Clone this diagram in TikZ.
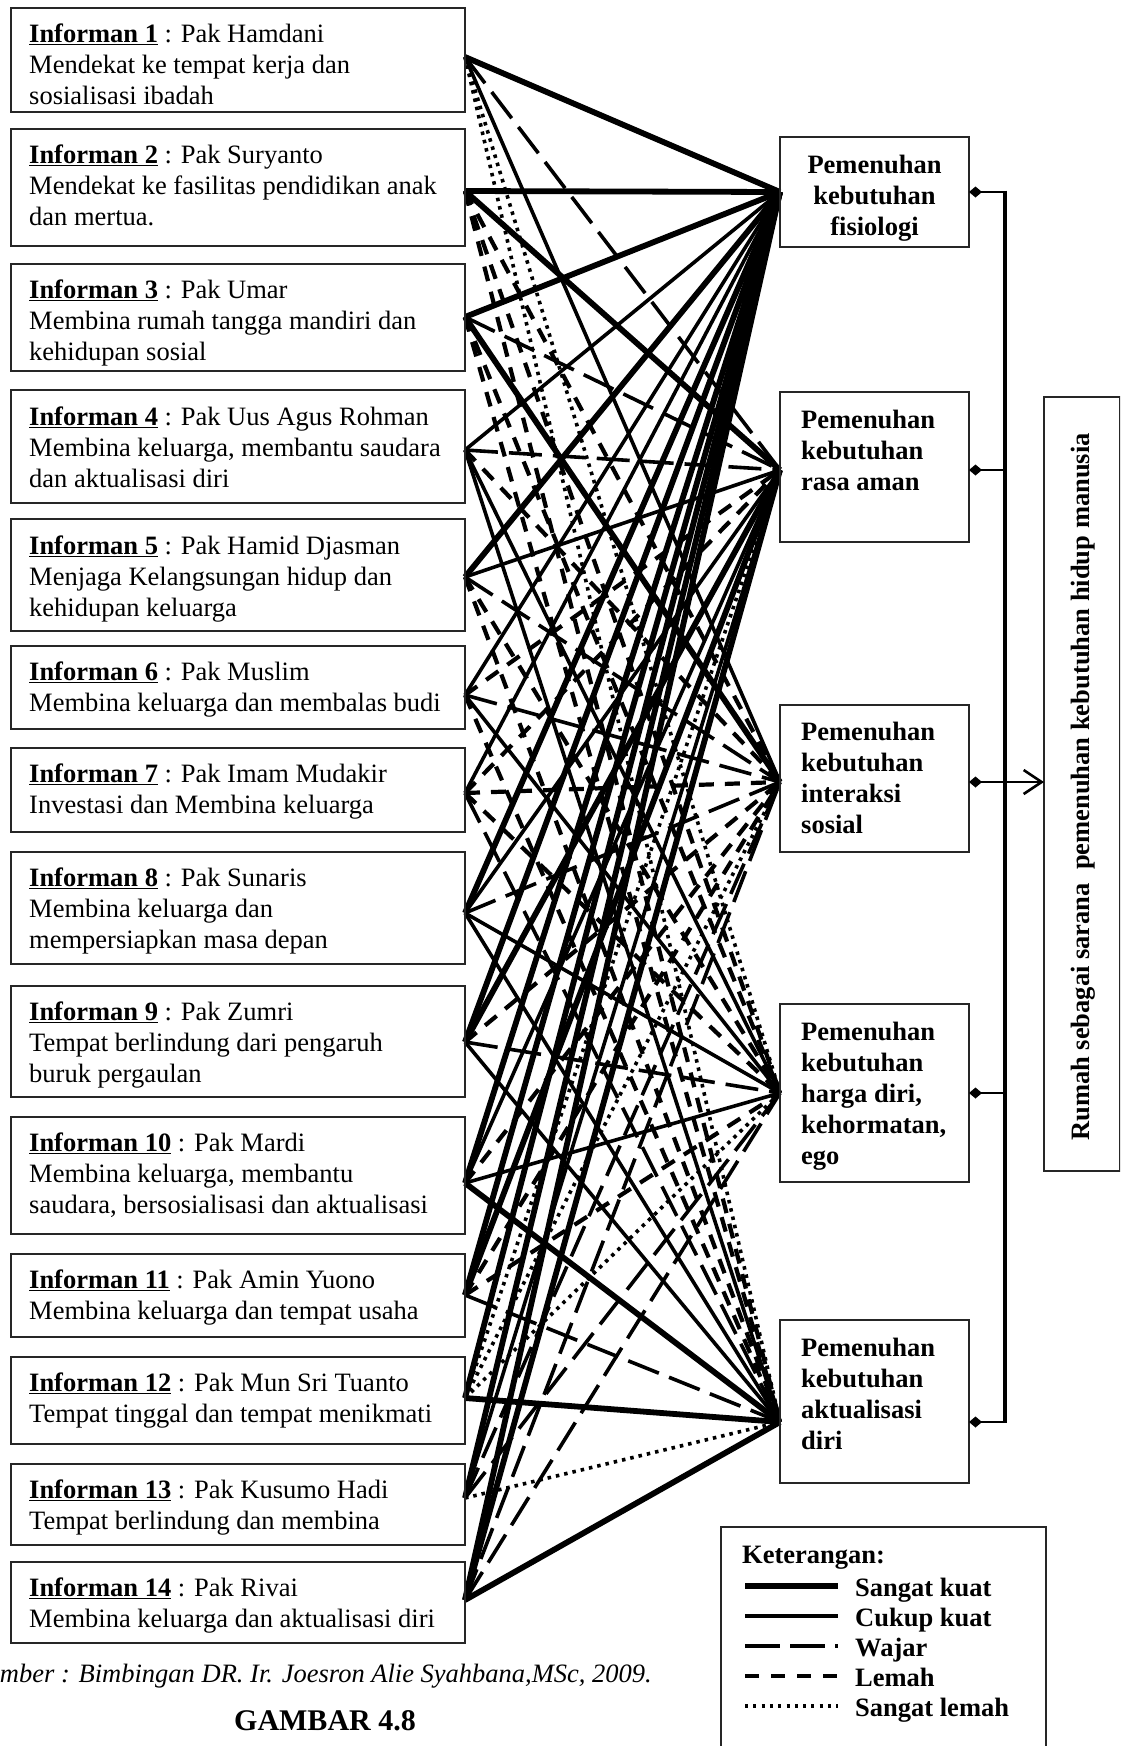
\documentclass[tikz,border=0pt]{standalone}
\usepackage{fontspec}
\setmainfont{Liberation Serif}
\usetikzlibrary{arrows.meta,calc}
\begin{document}
\begin{tikzpicture}[x=1pt,y=-1pt,
  box/.style={draw=black!85,line width=1.8pt,anchor=north west,inner sep=0pt,outer sep=0pt},
  itext/.style={anchor=north west,align=left,inner sep=0pt,font=\fontsize{26.5}{30.6}\selectfont},
  ttext/.style={anchor=north west,align=left,inner sep=0pt,font=\fontsize{26.5}{30.9}\selectfont\bfseries},
  sk/.style={line width=5.8pt},
  ck/.style={line width=3.6pt},
  wj/.style={line width=3.6pt,dash pattern=on 33pt off 11pt},
  lm/.style={line width=4.2pt,dash pattern=on 15pt off 11pt},
  sl/.style={line width=3.6pt,dash pattern=on 3.5pt off 5pt},
  bus/.style={line width=2.6pt},
]
\useasboundingbox (0,0) rectangle (1120,1746);
\clip (0,0) rectangle (1120,1746);

% connection points
\coordinate (p1) at (465,57);
\coordinate (p2) at (465,191);
\coordinate (p3) at (465,317);
\coordinate (p4) at (465,450);
\coordinate (p5) at (465,577);
\coordinate (p6) at (465,695);
\coordinate (p7) at (465,793);
\coordinate (p8) at (465,913);
\coordinate (p9) at (465,1042);
\coordinate (p10) at (465,1183);
\coordinate (p11) at (465,1295);
\coordinate (p12) at (465,1398);
\coordinate (p13) at (465,1498);
\coordinate (p14) at (465,1600);
\coordinate (q1) at (780,192);
\coordinate (q2) at (780,470);
\coordinate (q3) at (780,782);
\coordinate (q4) at (780,1093);
\coordinate (q5) at (780,1422);

% connectors
\foreach \i/\a/\b/\c/\d/\e in {
  1/sk/wj/ck/sl/sl,
  2/sk/sk/lm/lm/lm,
  3/sk/wj/sk/lm/lm,
  4/ck/wj/lm/ck/ck,
  5/sk/ck/wj/lm/lm,
  6/ck/lm/wj/ck/lm,
  7/ck/lm/lm/lm/wj,
  8/sk/ck/wj/ck/ck,
  9/sk/sk/lm/wj/ck,
  10/sk/ck/lm/ck/sk,
  11/sk/sk/lm/lm/wj,
  12/sk/sl/sl/sl/sk,
  13/sk/ck/wj/wj/sl,
  14/sk/sk/wj/wj/sk}{
  \draw[\a] (p\i) -- (q1);
  \draw[\b] (p\i) -- (q2);
  \draw[\c] (p\i) -- (q3);
  \draw[\d] (p\i) -- (q4);
  \draw[\e] (p\i) -- (q5);
}

% informant boxes
\node[box,minimum width=454pt,minimum height=104pt] (b1) at (11,8) {};
\node[itext] (t1) at (29,24) {\underline{\textbf{Informan 1}} : Pak Hamdani\\Mendekat ke tempat kerja dan\\sosialisasi ibadah};
\node[box,minimum width=454pt,minimum height=117pt] (b2) at (11,129) {};
\node[itext] (t2) at (29,145) {\underline{\textbf{Informan 2}} : Pak Suryanto\\Mendekat ke fasilitas pendidikan anak\\dan mertua.};
\node[box,minimum width=454pt,minimum height=107pt] (b3) at (11,264) {};
\node[itext] (t3) at (29,280) {\underline{\textbf{Informan 3}} : Pak Umar\\Membina rumah tangga mandiri dan\\kehidupan sosial};
\node[box,minimum width=454pt,minimum height=113pt] (b4) at (11,390) {};
\node[itext] (t4) at (29,407) {\underline{\textbf{Informan 4}} : Pak Uus Agus Rohman\\Membina keluarga, membantu saudara\\dan aktualisasi diri};
\node[box,minimum width=454pt,minimum height=112pt] (b5) at (11,519) {};
\node[itext] (t5) at (29,536) {\underline{\textbf{Informan 5}} : Pak Hamid Djasman\\Menjaga Kelangsungan hidup dan\\kehidupan keluarga};
\node[box,minimum width=454pt,minimum height=83pt] (b6) at (11,646) {};
\node[itext] (t6) at (29,662) {\underline{\textbf{Informan 6}} : Pak Muslim\\Membina keluarga dan membalas budi};
\node[box,minimum width=454pt,minimum height=84pt] (b7) at (11,748) {};
\node[itext] (t7) at (29,764) {\underline{\textbf{Informan 7}} : Pak Imam Mudakir\\Investasi dan Membina keluarga};
\node[box,minimum width=454pt,minimum height=112pt] (b8) at (11,852) {};
\node[itext] (t8) at (29,868) {\underline{\textbf{Informan 8}} : Pak Sunaris\\Membina keluarga dan\\mempersiapkan masa depan};
\node[box,minimum width=454pt,minimum height=111pt] (b9) at (11,986) {};
\node[itext] (t9) at (29,1002) {\underline{\textbf{Informan 9}} : Pak Zumri\\Tempat berlindung dari pengaruh\\buruk pergaulan};
\node[box,minimum width=454pt,minimum height=117pt] (b10) at (11,1117) {};
\node[itext] (t10) at (29,1133) {\underline{\textbf{Informan 10}} : Pak Mardi\\Membina keluarga, membantu\\saudara, bersosialisasi dan aktualisasi};
\node[box,minimum width=454pt,minimum height=83pt] (b11) at (11,1254) {};
\node[itext] (t11) at (29,1270) {\underline{\textbf{Informan 11}} : Pak Amin Yuono\\Membina keluarga dan tempat usaha};
\node[box,minimum width=454pt,minimum height=87pt] (b12) at (11,1357) {};
\node[itext] (t12) at (29,1373) {\underline{\textbf{Informan 12}} : Pak Mun Sri Tuanto\\Tempat tinggal dan tempat menikmati};
\node[box,minimum width=454pt,minimum height=81pt] (b13) at (11,1464) {};
\node[itext] (t13) at (29,1480) {\underline{\textbf{Informan 13}} : Pak Kusumo Hadi\\Tempat berlindung dan membina};
\node[box,minimum width=454pt,minimum height=81pt] (b14) at (11,1562) {};
\node[itext] (t14) at (29,1578) {\underline{\textbf{Informan 14}} : Pak Rivai\\Membina keluarga dan aktualisasi diri};

% target boxes
\node[box,minimum width=189pt,minimum height=110pt] (T1) at (780,137) {};
\node[ttext,anchor=north,align=center] (u1) at (874.5,155) {Pemenuhan\\kebutuhan\\fisiologi};
\node[box,minimum width=189pt,minimum height=150pt] (T2) at (780,392) {};
\node[ttext] (u2) at (801,410) {Pemenuhan\\kebutuhan\\rasa aman};
\node[box,minimum width=189pt,minimum height=147pt] (T3) at (780,705) {};
\node[ttext] (u3) at (801,722) {Pemenuhan\\kebutuhan\\interaksi\\sosial};
\node[box,minimum width=189pt,minimum height=178pt] (T4) at (780,1004) {};
\node[ttext] (u4) at (801,1022) {Pemenuhan\\kebutuhan\\harga diri,\\kehormatan,\\ego};
\node[box,minimum width=189pt,minimum height=163pt] (T5) at (780,1320) {};
\node[ttext] (u5) at (801,1338) {Pemenuhan\\kebutuhan\\aktualisasi\\diri};

% right result box
\node[box,minimum width=76pt,minimum height=774pt] (R) at (1044,397) {};
\node[rotate=90,inner sep=0pt,font=\fontsize{26.5}{30}\selectfont\bfseries] (rt) at (1083,787) {Rumah sebagai sarana\ \ pemenuhan kebutuhan hidup manusia};

% bus
\coordinate (r1) at (969,192);
\coordinate (r2) at (969,470);
\coordinate (r3) at (969,782);
\coordinate (r4) at (969,1093);
\coordinate (r5) at (969,1422);
\coordinate (s1) at (1005,192);
\coordinate (s2) at (1005,470);
\coordinate (s3) at (1005,782);
\coordinate (s4) at (1005,1093);
\coordinate (s5) at (1005,1422);
\draw[line width=4pt] ($(s1)+(0,-1.3)$) -- ($(s5)+(0,1.3)$);
\foreach \k in {1,...,5}{
  \draw[bus,{Diamond[length=13pt,width=11pt]}-] (r\k) -- (s\k);
}
\draw[bus,-{Straight Barb[length=18pt,width=24pt,line width=2.6pt]}] (s3) -- (s3 -| R.west);

% legend
\node[box,minimum width=325pt,minimum height=240pt] (leg) at (721,1527) {};
\node[anchor=base west,inner sep=0pt,font=\fontsize{26.5}{30}\selectfont\bfseries] (kt) at (742,1563) {Keterangan:};
\coordinate (la1) at (745,1586); \coordinate (lb1) at (838,1586);
\coordinate (la2) at (745,1616); \coordinate (lb2) at (838,1616);
\coordinate (la3) at (745,1646); \coordinate (lb3) at (838,1646);
\coordinate (la4) at (745,1676); \coordinate (lb4) at (838,1676);
\coordinate (la5) at (745,1706); \coordinate (lb5) at (838,1706);
\draw[line width=6.5pt] (la1) -- (lb1);
\draw[ck] (la2) -- (lb2);
\draw[line width=3.6pt,dash pattern=on 35pt off 10pt] (la3) -- (lb3);
\draw[lm,dash pattern=on 14pt off 12pt] (la4) -- (lb4);
\draw[sl,dash pattern=on 3pt off 5.3pt] (la5) -- (lb5);
\foreach \k/\txt in {1/Sangat kuat,2/Cukup kuat,3/Wajar,4/Lemah,5/Sangat lemah}{
  \node[anchor=base west,inner sep=0pt,font=\fontsize{26.5}{30}\selectfont\bfseries] (lt\k) at ($(lb\k)+(17,10)$) {\txt};
}

% captions
\node[anchor=base east,inner sep=0pt,font=\fontsize{26.5}{30}\selectfont\itshape] (src) at (652,1682) {Sumber : Bimbingan DR. Ir. Joesron Alie Syahbana,MSc, 2009.};
\node[anchor=base,inner sep=0pt,font=\fontsize{30}{34}\selectfont\bfseries] (gb) at (325,1730) {GAMBAR 4.8};
\end{tikzpicture}
\end{document}
